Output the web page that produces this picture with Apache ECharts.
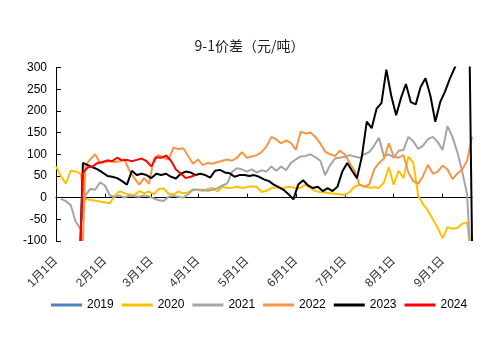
<!DOCTYPE html>
<html><head><meta charset="utf-8">
<script src="https://cdn.jsdelivr.net/npm/echarts@6/dist/echarts.min.js"></script>
<style>html,body{margin:0;padding:0;background:#fff}#c{width:499px;height:343px}</style>
</head><body><div id="c"></div>
<script>
// Trading-day categories per month (Jan..Sep)
const monthLens = [20, 19, 19, 20, 20, 20, 20, 20, 13];
const monthLabels = ['1月1日','2月1日','3月1日','4月1日','5月1日','6月1日','7月1日','8月1日','9月1日'];
const seriesNames = ['2019','2020','2021','2022','2023','2024'];
const seriesColors = ['#4F81BD','#FFC000','#A5A5A5','#F79646','#000000','#FF0000'];
const dropValue = -100;

// values sampled every 2 trading days, starting at the given index
const start2019 = 0;
const v2019 = [];
const start2020 = 0;
const v2020 = [72,50,32,62,60,56,-3,-5,-7,-9,-11,-13,4,15,10,7,5,15,10,14,8,20,21,9,7,14,10,12,19,18,15,20,22,14,25,22,23,25,22,24,26,25,13,16,22,24,21,24,25,21,23,30,22,15,13,12,10,9,8,6,13,25,30,26,23,24,22,35,70,30,62,45,95,80,5,-15,-30,-50,-70,-94,-68,-72,-70,-60,-57];
const drop2020 = [null, 169];
const start2021 = 2;
const v2021 = [-3,-8,-17,-55,-72,5,20,18,35,28,5,2,5,0,5,3,2,5,3,-2,-6,-8,2,4,2,0,8,18,18,18,16,18,22,28,33,60,68,65,60,65,58,63,60,72,62,72,63,80,88,95,96,100,93,85,52,75,90,92,94,98,95,92,100,105,120,138,95,100,92,108,110,140,130,112,120,135,140,128,110,165,140,105,60,8];
const drop2021 = [null, 169];
const start2022 = 12;
const v2022 = [74,88,100,80,82,84,82,84,88,62,45,30,45,32,90,98,92,88,115,112,114,96,78,88,75,80,78,82,85,88,85,92,105,92,95,98,105,118,140,134,125,132,126,110,152,148,150,140,125,106,100,96,108,100,80,62,30,25,30,65,80,90,125,95,92,98,58,38,32,50,76,55,60,74,65,43,55,65,85,140];
const drop2022 = [11, null];
const start2023 = 11;
const v2023 = [80,75,70,65,58,50,48,45,38,30,62,52,55,52,45,55,52,55,48,44,55,60,58,52,55,52,46,62,64,58,56,48,52,52,50,52,48,42,38,30,24,18,8,-4,30,40,28,22,25,15,22,15,25,60,80,62,45,95,175,160,205,218,295,235,190,230,262,220,215,255,275,235,175,220,245,275,300,330,340,340];
const drop2023 = [10, 170];
const start2024 = 11;
const v2024 = [57,70,72,80,82,86,84,92,86,87,84,87,90,84,72,93,92,97,85,65,55,45,48,52];
const drop2024 = [10, null];

const categories = [];
const monthStarts = [];
monthLens.forEach((n, m) => {
  monthStarts.push(categories.length);
  for (let k = 0; k < n; k++) categories.push(k === 0 ? monthLabels[m] : (m + 1) + '月第' + (k + 1) + '交易日');
});

function build(start, vals, drop) {
  const out = [];
  if (drop && drop[0] !== null) out.push([drop[0], dropValue]);
  vals.forEach((v, k) => out.push([start + 2 * k, v]));
  if (drop && drop[1] !== null) out.push([drop[1], dropValue]);
  return out;
}
const allData = [
  build(start2019, v2019, null),
  build(start2020, v2020, drop2020),
  build(start2021, v2021, drop2021),
  build(start2022, v2022, drop2022),
  build(start2023, v2023, drop2023),
  build(start2024, v2024, drop2024)
];

const isMonthStart = (i) => monthStarts.indexOf(i) >= 0;
const chart = echarts.init(document.getElementById('c'), null, {renderer: 'canvas'});
chart.setOption({
  animation: false,
  backgroundColor: '#fff',
  title: {
    text: '9-1价差（元/吨）', left: 'center', top: 34,
    textStyle: {fontSize: 14, fontWeight: 'normal', color: '#222', fontFamily: '"Noto Sans CJK SC", sans-serif'}
  },
  grid: {left: 56, right: 27, top: 67.5, bottom: 102},
  legend: {
    data: seriesNames, left: 46, top: 294, icon: 'rect', itemWidth: 31, itemHeight: 3, itemGap: 8,
    textStyle: {fontSize: 12, color: '#000', fontFamily: '"Liberation Sans", sans-serif'}
  },
  xAxis: [{
    type: 'category', data: categories, boundaryGap: false,
    axisLine: {onZero: true, lineStyle: {color: '#000', width: 1}},
    axisTick: {inside: true, length: 4, interval: (i) => isMonthStart(i), lineStyle: {color: '#000'}},
    axisLabel: {show: false}, splitLine: {show: false}
  }, {
    type: 'category', data: categories, boundaryGap: false, position: 'bottom',
    axisLine: {show: false, onZero: false}, axisTick: {show: false}, splitLine: {show: false},
    axisLabel: {interval: (i) => isMonthStart(i), rotate: 45, margin: 18, fontSize: 12, color: '#333',
      fontFamily: '"Liberation Sans", "Noto Sans CJK SC", sans-serif'}
  }],
  yAxis: {
    type: 'value', min: -100, max: 300, interval: 50,
    axisLine: {show: true, lineStyle: {color: '#000'}},
    axisTick: {show: true, inside: true, length: 5, lineStyle: {color: '#000'}},
    splitLine: {show: false},
    axisLabel: {fontSize: 12, color: '#000', margin: 9, fontFamily: '"Liberation Sans", sans-serif'}
  },
  series: seriesNames.map((name, k) => ({
    name, type: 'line', xAxisIndex: 0, data: allData[k], symbol: 'none',
    lineStyle: {width: 2, color: seriesColors[k]}, itemStyle: {color: seriesColors[k]},
    emphasis: {disabled: true}
  }))
});
</script></body></html>
